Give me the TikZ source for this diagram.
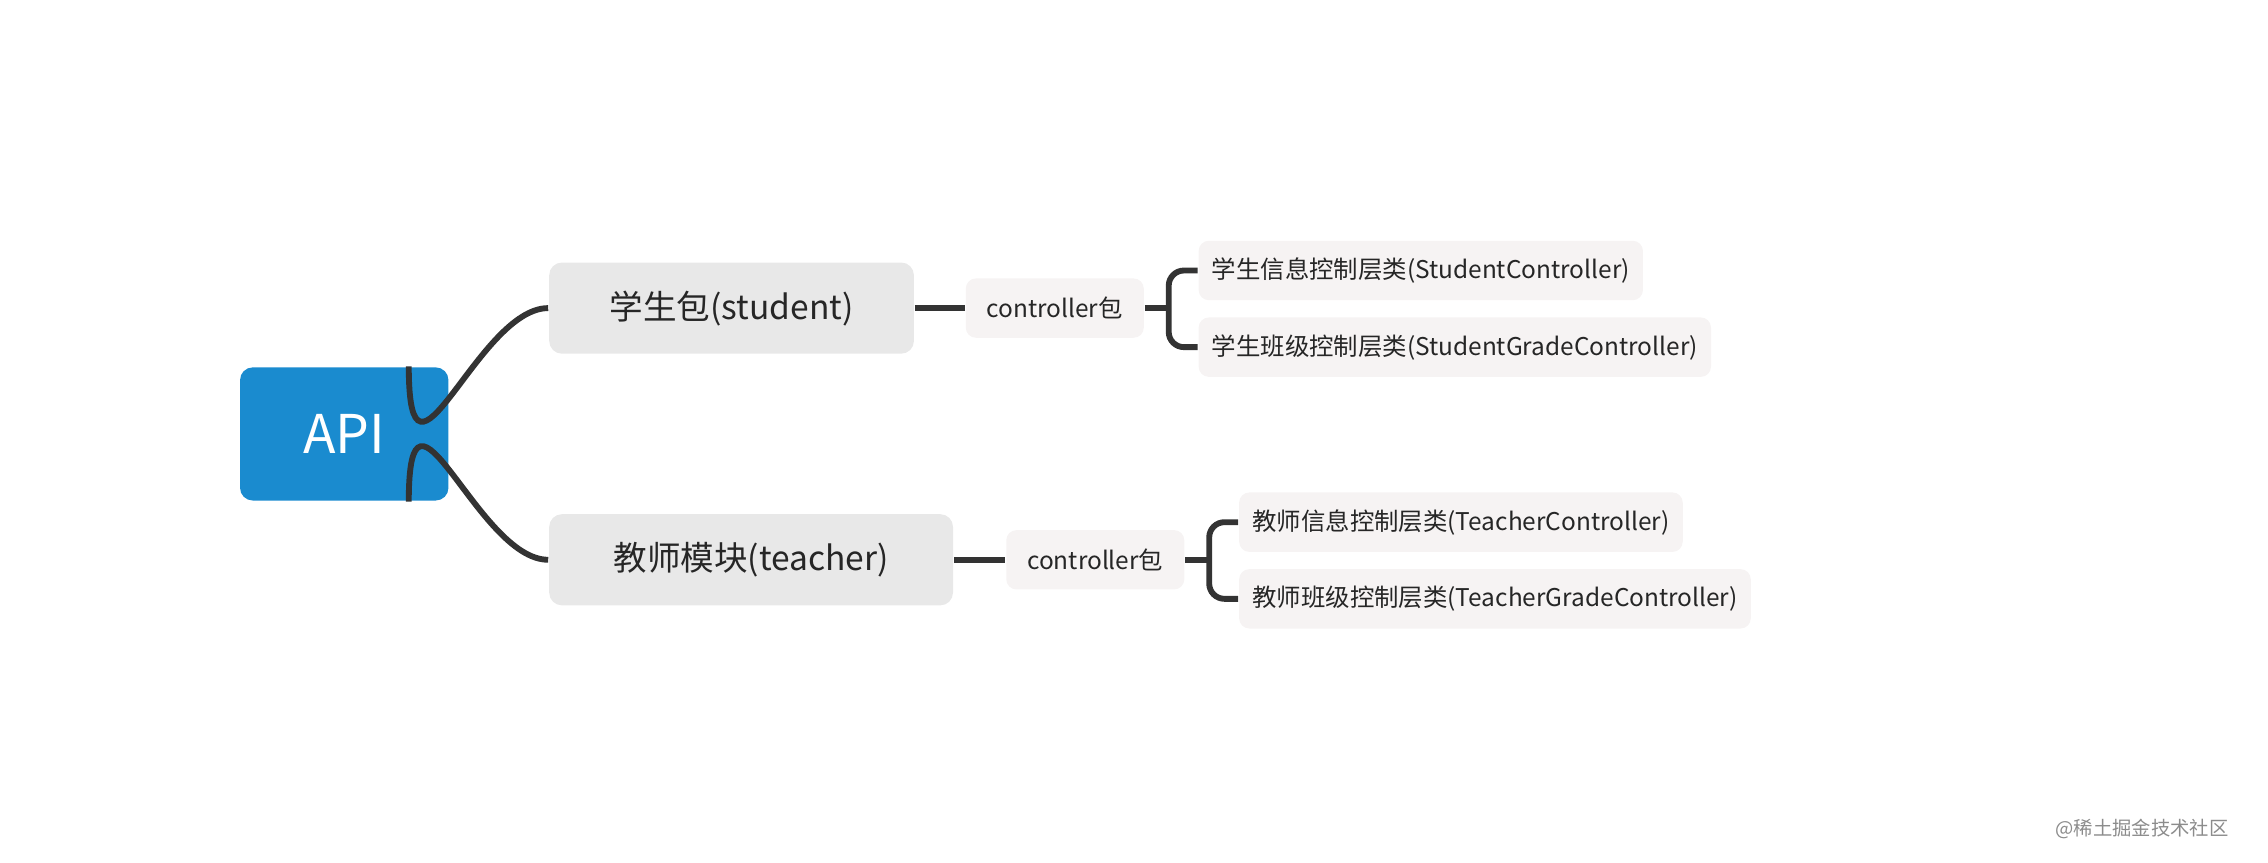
\documentclass[tikz,border=0pt]{standalone}
\usepackage{fontspec}
\setmainfont{Noto Sans CJK SC}
\usetikzlibrary{positioning}
\definecolor{apiblue}{HTML}{1A8BCF}
\definecolor{topgray}{HTML}{E8E8E8}
\definecolor{subgray}{HTML}{F6F3F3}
\definecolor{linegray}{HTML}{333333}
\tikzset{
  conn/.style={draw=linegray,line width=1.15pt},
  rootbox/.style={fill=apiblue,text=white,rounded corners=2.5pt,minimum width=1.44cm,minimum height=0.92cm,font=\fontsize{10.5}{12}\selectfont},
  topicbox/.style={fill=topgray,text=black!85,rounded corners=2.5pt,anchor=west,minimum height=0.63cm,inner xsep=7pt,font=\fontsize{6.6}{8}\selectfont},
  pkgbox/.style={fill=subgray,text=black!85,rounded corners=2pt,anchor=west,minimum height=0.41cm,inner xsep=2.6pt,font=\fontsize{4.8}{6}\selectfont},
  leafbox/.style={fill=subgray,text=black!85,rounded corners=2pt,anchor=west,minimum height=0.41cm,inner xsep=2.6pt,font=\fontsize{4.8}{6}\selectfont}
}
\begin{document}
\begin{tikzpicture}[x=0.01cm,y=-0.01cm]
\useasboundingbox (0,0) rectangle (1568,596);
\node[rootbox] at (238,300) (api) {API};
\node[topicbox,minimum width=2.52cm] at (379,213) (stu) {学生包(student)};
\node[topicbox,minimum width=2.79cm] at (379,387) (tea) {教师模块(teacher)};
\node[pkgbox,minimum width=1.23cm] at (667,213) (pkgs) {controller包};
\node[pkgbox,minimum width=1.23cm] at (695,387) (pkgt) {controller包};
\node[leafbox] at (828,187) (s1) {学生信息控制层类(StudentController)};
\node[leafbox] at (828,240) (s2) {学生班级控制层类(StudentGradeController)};
\node[leafbox] at (856,361) (t1) {教师信息控制层类(TeacherController)};
\node[leafbox] at (856,414) (t2) {教师班级控制层类(TeacherGradeController)};
\node[text=black!45,font=\fontsize{3.8}{5}\selectfont,anchor=east] at (1553,573) (mark) {@稀土掘金技术社区};

\draw[conn] ([xshift=-8]api.north east) .. controls ([xshift=-8,yshift=-30]api.north east) and (330,213) .. (stu.west);
\draw[conn] ([xshift=-8]api.south east) .. controls ([xshift=-8,yshift=30]api.south east) and (330,387) .. (tea.west);
\draw[conn] (stu.east) -- (pkgs.west);
\draw[conn] (tea.east) -- (pkgt.west);
\draw[conn] (pkgs.east) -- ++(18,0);
\draw[conn] (pkgt.east) -- ++(18,0);
\draw[conn,rounded corners=3pt] (s1.west) -- ++(-20,0) |- (s2.west);
\draw[conn,rounded corners=3pt] (t1.west) -- ++(-20,0) |- (t2.west);
\end{tikzpicture}
\end{document}
